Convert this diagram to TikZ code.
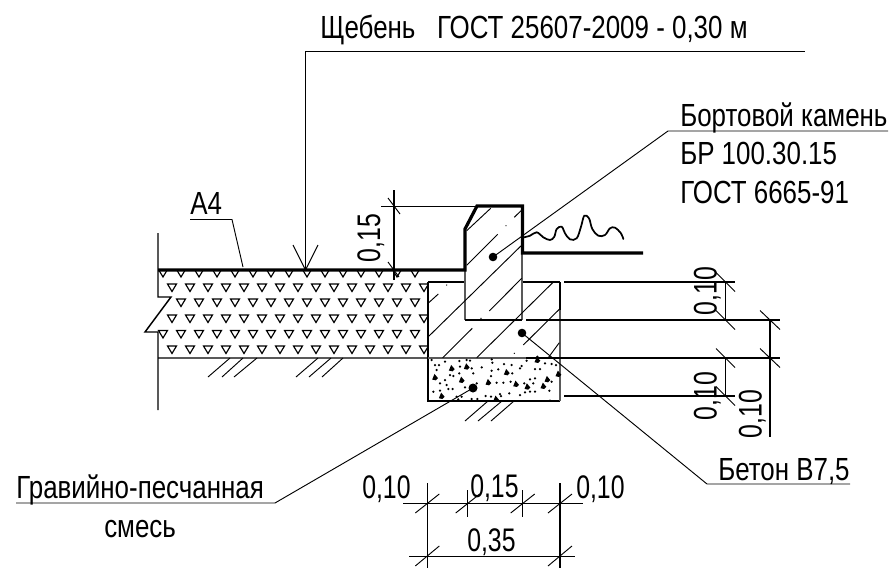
\documentclass[tikz,border=0pt]{standalone}
\usepackage{fontspec}
\setmainfont[FakeStretch=0.81]{Liberation Sans}
\newfontfamily\dimfont[FakeStretch=0.76]{Liberation Sans}
\tikzset{
  thinline/.style={line width=0.7pt,black},
  medline/.style={line width=1.1pt,black},
  thickline/.style={line width=2.4pt,black,line join=miter},
  grayline/.style={line width=1pt,black!65},
  lbl/.style={inner sep=0pt,anchor=base west,font=\fontsize{24}{28}\selectfont},
  dimh/.style={inner sep=0pt,anchor=base west,font=\dimfont\fontsize{24.5}{28}\selectfont},
  lblc/.style={inner sep=0pt,anchor=base,rotate=90,font=\dimfont\fontsize{24.5}{28}\selectfont},
  tri/.style={line width=0.85pt,black},
  speck/.style={fill=black,draw=none}
}
\begin{document}
\begin{tikzpicture}[x=0.75pt,y=-0.75pt]
\path[use as bounding box,fill=white] (0,0) rectangle (890,568);

% aggregate triangles
\begin{scope}
\clip (158,270) -- (428,270) -- (428,358) -- (158,358) -- (158,332) -- (145,332) -- (171,297) -- (158,297) -- cycle;
\foreach \yy in {269.5,299,330.5}{
  \foreach \k in {0,...,15}{
    \draw[tri] ({163+18*\k-4.5},\yy) -- ({163+18*\k+4.5},\yy) -- ({163+18*\k},\yy+7.5) -- cycle;
  }
}
\foreach \yy in {284,315,346}{
  \foreach \k in {0,...,14}{
    \draw[tri] ({172+18*\k-4.5},\yy) -- ({172+18*\k+4.5},\yy) -- ({172+18*\k},\yy+7.5) -- cycle;
  }
}
\end{scope}

% layer bottom, left cut with break
\draw[grayline] (158,358) -- (428,358);
\draw[medline] (158,233) -- (158,297) -- (171,297) -- (145,332) -- (158,332) -- (158,410);

% concrete and gravel outlines
\draw[medline] (428,282) -- (465,282);
\draw[medline] (522,282) -- (560,282);
\draw[medline] (428,282) -- (428,401) -- (560,401);
\draw[line width=1.5pt] (560,282) -- (560,310);
\draw[grayline] (560,310) -- (560,401);
\draw[grayline] (428,358) -- (560,358);

% curb outline
\draw[grayline] (465,270) -- (465,320);
\draw[grayline] (522,253) -- (522,320);
\draw[line width=1.3pt] (465,320) -- (522,320);

% hatching
\foreach \a/\b/\c/\d in {
 466.7/230.7/490.7/208.3,
 514.3/217.3/521/210.7,
 466.7/265.3/497.7/234.3,
 427.3/337.7/521/245.9,
 489.3/311/521.7/278.3,
 427.3/304/438.3/294,
 442.7/357.7/472.3/328.3,
 476.7/357.7/552.7/282.7,
 523.3/345/559.3/309.3,
 548.3/357.7/559.3/342.7,
 208/377/230/358, 222/377/243/358, 234/377/257/358,
 296/377/318/358, 309/377/331/358, 322/377/343/358,
 465/421/488/401, 478/421/502/401, 491/421/514/401}{
  \draw[thinline] (\a,\b) -- (\c,\d);
}
\foreach \p/\q in {506/225.7,446.7/285,481/318.3,514.3/353.3}{
  \fill (\p,\q) circle (0.7);
}

% gravel specks: small
\foreach \p/\q in {35/30,45/45,57/45,75/35,118/33,120/50,118/70,90/75,100/78,75/90,80/105,160/70,185/52,217/38,215/62,213/78,235/58,252/42,275/45,277/70,305/48,300/55,320/32,345/57,360/57,375/40,395/42,408/45,345/85,330/88,313/100,230/98,250/98,272/95,85/117,98/117,40/125,60/122,268/130,243/138,213/140,197/138,155/147,172/147,115/148,125/140,345/125,330/125,315/127,388/122,390/152,240/132,135/112,110/140,150/32,215/28,352/20,50/60,140/30,170/100,300/135,340/100,395/95,155/55,60/100}{
  \fill[speck] ({420+\p/3},{350+\q/3}) circle (1.25);
}
% gravel specks: large
\foreach \p/\q in {95/55,140/50,45/82,125/90,205/97,260/67,288/102,322/110,382/88,370/108,65/138,228/147,352/30,415/72}{
  \fill[speck] ({420+\p/3-2.8},{350+\q/3+2.2}) -- ({420+\p/3-0.5},{350+\q/3-3.4}) -- ({420+\p/3+3},{350+\q/3+0.8}) -- ({420+\p/3+0.8},{350+\q/3+3}) -- cycle;
}

% ground and curb top
\draw[thickline] (158,270) -- (465,270) -- (465,229) -- (477,206) -- (522.5,206) -- (522.5,253) -- (643,253);

% wavy line
\draw[line width=1.3pt,line cap=round] plot[smooth,tension=0.6] coordinates {(522.3,237.7) (530,235.7) (536.7,232.3) (543.3,237.3) (550,240) (554.3,236.7) (556.7,229) (561.7,226.7) (565,233.3) (570,239.3) (576.7,238.3) (581,226.7) (584.3,215.7) (589,218.3) (592.3,229) (598.3,235.7) (605,235) (610,228.3) (615,227.7) (621,233.3) (623.3,239)};

% callout coordinates and dots
\coordinate (dotcurb) at (493,257);
\coordinate (dotconc) at (522,333);
\coordinate (dotgrav) at (473,388);
\fill (dotcurb) circle (4.3);
\fill (dotconc) circle (4.3);
\fill (dotgrav) circle (4.5);

% text
\node[lbl] (tsheb) at (320,38) {Щебень\ \ \ ГОСТ 25607-2009 - 0,30 м};
\node[lbl] (tbort) at (680,126) {Бортовой камень};
\node[lbl] (tbr) at (680,164) {БР 100.30.15};
\node[lbl] (tgost) at (680,203) {ГОСТ 6665-91};
\node[lbl] (tbet) at (718,480) {Бетон В7,5};
\node[lbl] (tgrav) at (16,498) {Гравийно-песчанная};
\node[lbl] (tsmes) at (104,537) {смесь};
\node[lbl] (ta) at (190,214) {А4};
\node[dimh] (td1) at (362,498) {0,10};
\node[dimh] (td2) at (470,497) {0,15};
\node[dimh] (td3) at (576,498) {0,10};
\node[dimh] (td4) at (467,551) {0,35};
\node[lblc] (tv1) at (380,238) {0,15};
\node[lblc] (tv2) at (716.7,291) {0,10};
\node[lblc] (tv3) at (716.7,396) {0,10};
\node[lblc] (tv4) at (761.7,414) {0,10};

% leaders
\draw[thinline] (305.5,270) -- (305.5,51) -- (805,51);
\draw[thinline] (293,245) -- (305.5,270) -- (318,245);
\draw[thinline] (190,219.5) -- (232,219.5) -- (243,267);
\draw[thinline] (888,131) -- (668,131) -- (dotcurb);
\draw[thinline] (850,484) -- (707,484) -- (dotconc);
\draw[thinline] (16,503) -- (275,503) -- (dotgrav);

% dimension: 0,15
\draw[thinline] (381,206) -- (477,206);
\draw[medline] (394,190) -- (394,280);
\draw[thinline] (388,198) -- (400,214);
\draw[thinline] (388,262) -- (399,277);

% dimensions on the right
\draw[line width=1.2pt] (564,282) -- (735,282);
\draw[line width=1.2pt] (526,320) -- (780,320);
\draw[line width=1.2pt] (526,358) -- (780,358);
\draw[line width=1.2pt] (564,396) -- (735,396);
\draw[medline] (725.7,282) -- (725.7,320);
\draw[medline] (725.7,358) -- (725.7,396);
\draw[medline] (770,320) -- (770,437);
\foreach \yy in {282,320,358,396}{
  \draw[thinline] (716,\yy-9.5) -- (735,\yy+9.5);
}
\foreach \yy in {320,358}{
  \draw[thinline] (760,\yy-9.5) -- (780,\yy+9.5);
}

% dimensions at the bottom
\draw[thinline] (403,503) -- (583,503);
\draw[thinline] (409,556) -- (575,556);
\draw[medline] (427.3,483) -- (427.3,568);
\draw[medline] (467.7,490) -- (467.7,517);
\draw[medline] (522.7,490) -- (522.7,517);
\draw[medline] (560,483) -- (560,568);
\foreach \xx in {427.3,467.7,522.7,560}{
  \draw[thinline] (\xx-12,513) -- (\xx+12,494);
}
\foreach \xx in {427.3,560}{
  \draw[thinline] (\xx-12,566) -- (\xx+12,546);
}
\end{tikzpicture}
\end{document}
